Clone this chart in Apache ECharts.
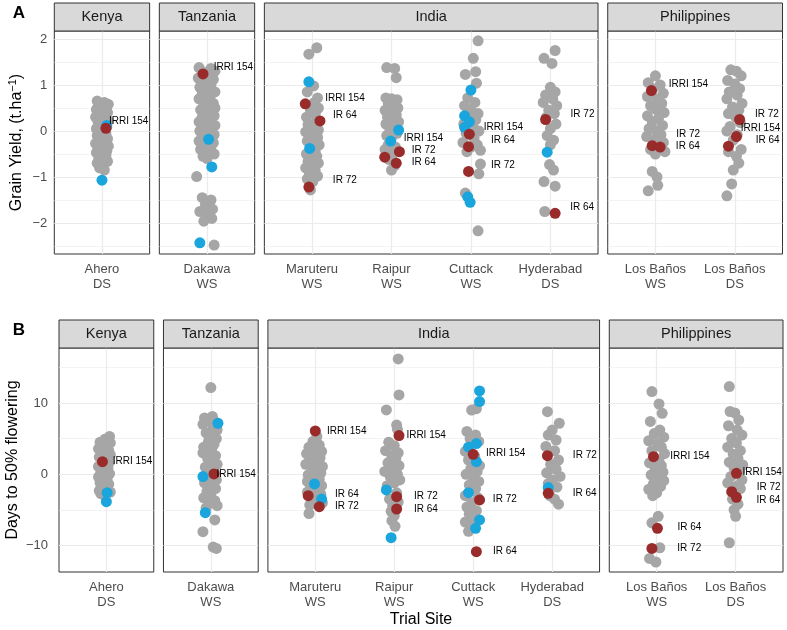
<!DOCTYPE html>
<html><head><meta charset="utf-8">
<script src="https://cdn.jsdelivr.net/npm/echarts@6/dist/echarts.min.js"></script>
<style>html,body{margin:0;padding:0;background:#fff}#c{width:787px;height:630px}</style>
</head><body><div id="c"></div>
<script>
// ---------------- DATA ----------------
const countries = ['Kenya', 'Tanzania', 'India', 'Philippines'];
const sitesKenya = ['Ahero\nDS'];
const sitesTanzania = ['Dakawa\nWS'];
const sitesIndia = ['Maruteru\nWS', 'Raipur\nWS', 'Cuttack\nWS', 'Hyderabad\nDS'];
const sitesPhilippines = ['Los Baños\nWS', 'Los Baños\nDS'];
const yieldTicks = [-2, -1, 0, 1, 2];
const yieldMinor = [-2.5, -1.5, -0.5, 0.5, 1.5];
const floweringTicks = [-10, 0, 10];
const floweringMinor = [-5, 5, 15];
const yieldRange = [-2.674, 2.174];
const floweringRange = [-13.7, 17.7];

// [siteIndex, jitter, value]
const yieldKenyaGray = [[0,-0.06,0.65],[0,0.03,0.62],[0,0.08,0.58],[0,-0.02,0.55],[0,0.05,0.5],[0,-0.07,0.47],[0,0.01,0.44],[0,0.07,0.4],[0,-0.04,0.36],[0,0.04,0.33],[0,-0.08,0.3],[0,0.0,0.27],[0,0.08,0.22],[0,-0.05,0.2],[0,0.03,0.16],[0,-0.02,0.12],[0,0.06,0.08],[0,-0.07,0.05],[0,0.01,0.02],[0,-0.03,-0.03],[0,0.05,-0.06],[0,-0.06,-0.1],[0,0.02,-0.13],[0,0.07,-0.17],[0,-0.03,-0.2],[0,0.04,-0.24],[0,-0.08,-0.27],[0,0.0,-0.3],[0,0.08,-0.33],[0,-0.05,-0.37],[0,0.03,-0.4],[0,0.06,-0.44],[0,-0.07,-0.47],[0,-0.01,-0.5],[0,0.05,-0.54],[0,-0.04,-0.58],[0,0.02,-0.62],[0,0.07,-0.66],[0,-0.06,-0.7],[0,0.0,-0.74],[0,-0.03,-0.8],[0,0.03,-0.85]];
const yieldKenyaBlue = [[0,0.06,0.12],[0,0.0,-1.07]];
const yieldKenyaRed = [[0,0.05,0.06,'IRRI 154']];

const yieldTanzaniaGray = [[0,-0.1,1.38],[0,0.05,1.36],[0,0.1,1.3],[0,-0.05,1.28],[0,0.0,1.2],[0,-0.11,1.15],[0,0.08,1.12],[0,-0.03,1.05],[0,0.05,1.0],[0,-0.09,0.95],[0,0.02,0.9],[0,0.1,0.85],[0,-0.06,0.8],[0,0.04,0.75],[0,-0.1,0.7],[0,0.0,0.66],[0,0.08,0.6],[0,-0.04,0.55],[0,0.1,0.5],[0,-0.08,0.46],[0,0.03,0.42],[0,-0.01,0.38],[0,0.09,0.33],[0,-0.06,0.3],[0,0.05,0.25],[0,-0.1,0.2],[0,0.01,0.16],[0,0.1,0.12],[0,-0.04,0.08],[0,0.06,0.04],[0,-0.09,0.0],[0,0.0,-0.04],[0,0.09,-0.08],[0,-0.06,-0.12],[0,0.04,-0.18],[0,-0.1,-0.22],[0,0.08,-0.26],[0,-0.02,-0.3],[0,0.05,-0.35],[0,-0.08,-0.4],[0,0.02,-0.45],[0,0.09,-0.5],[0,-0.05,-0.55],[0,0.0,-0.6],[0,-0.13,-0.99],[0,-0.06,-1.45],[0,0.05,-1.5],[0,-0.02,-1.6],[0,0.07,-1.7],[0,-0.09,-1.75],[0,0.0,-1.82],[0,0.06,-1.9],[0,-0.04,-1.96],[0,0.09,-2.48]];
const yieldTanzaniaBlue = [[0,0.02,-0.18],[0,0.06,-0.78],[0,-0.09,-2.43]];
const yieldTanzaniaRed = [[0,-0.05,1.24,'IRRI 154']];

const yieldIndiaGray = [
 [0,0.06,1.81],[0,-0.04,1.67],[0,0.02,0.98],[0,-0.06,0.85],[0,0.07,0.72],[0,0.03,0.62],[0,0.08,0.5],[0,-0.02,0.45],[0,0.04,0.38],[0,-0.07,0.3],[0,0.05,0.2],[0,-0.05,0.14],[0,0.0,0.08],[0,0.08,0.02],[0,-0.08,-0.02],[0,0.03,-0.06],[0,-0.03,-0.1],[0,0.07,-0.14],[0,0.0,-0.18],[0,-0.06,-0.22],[0,0.05,-0.26],[0,0.09,-0.3],[0,-0.02,-0.33],[0,0.04,-0.45],[0,-0.07,-0.5],[0,0.06,-0.55],[0,0.0,-0.6],[0,-0.05,-0.66],[0,0.08,-0.7],[0,0.02,-0.75],[0,-0.08,-0.8],[0,0.04,-0.86],[0,-0.03,-0.92],[0,0.07,-0.98],[0,-0.06,-1.04],[0,0.01,-1.1],[0,-0.02,-1.28],
 [1,-0.06,1.38],[1,0.04,1.36],[1,0.06,1.16],[1,-0.07,0.72],[1,0.0,0.7],[1,0.07,0.68],[1,-0.04,0.6],[1,0.03,0.56],[1,0.08,0.5],[1,-0.08,0.45],[1,0.0,0.4],[1,0.06,0.35],[1,-0.05,0.3],[1,0.02,0.26],[1,0.09,0.2],[1,-0.07,0.15],[1,0.03,0.1],[1,-0.02,0.05],[1,0.07,-0.05],[1,-0.06,-0.1],[1,0.0,-0.15],[1,-0.04,-0.3],[1,0.05,-0.35],[1,-0.08,-0.4],[1,0.02,-0.5],[1,-0.03,-0.62],[1,0.04,-0.75],[1,0.0,-0.85],
 [2,0.09,1.96],[2,0.03,1.58],[2,0.06,1.29],[2,-0.07,1.23],[2,0.07,1.04],[2,-0.04,0.72],[2,0.05,0.62],[2,-0.08,0.55],[2,0.0,0.45],[2,0.09,0.38],[2,-0.03,0.3],[2,0.06,0.24],[2,-0.09,0.15],[2,0.02,0.1],[2,0.1,0.0],[2,-0.06,-0.05],[2,0.04,-0.15],[2,-0.1,-0.25],[2,0.08,-0.3],[2,0.0,-0.35],[2,0.12,-0.42],[2,-0.05,-0.45],[2,0.12,-0.72],[2,0.1,-0.93],[2,-0.07,-1.35],[2,0.09,-2.17],
 [3,0.06,1.75],[3,-0.08,1.58],[3,0.02,1.47],[3,0.0,0.95],[3,0.06,0.85],[3,-0.06,0.78],[3,0.03,0.7],[3,-0.09,0.62],[3,0.08,0.55],[3,-0.02,0.45],[3,0.05,0.38],[3,-0.05,0.3],[3,0.07,0.15],[3,0.0,0.05],[3,-0.04,-0.1],[3,0.04,-0.2],[3,0.0,-0.3],[3,-0.01,-0.73],[3,0.04,-0.85],[3,-0.08,-1.1],[3,0.06,-1.2],[3,-0.07,-1.75]];
const yieldIndiaBlue = [[0,-0.04,1.07],[0,-0.03,-0.38],[1,0.09,0.02],[1,-0.01,-0.22],[2,0.0,0.89],[2,-0.08,0.33],[2,-0.02,0.2],[2,-0.08,0.08],[2,-0.04,-1.43],[2,-0.01,-1.55],[3,-0.04,-0.46]];
const yieldIndiaRed = [[0,-0.085,0.59,'IRRI 154'],[0,0.1,0.22,'IR 64'],[0,-0.04,-1.22,'IR 72'],[1,0.1,-0.45,'IR 72'],[1,-0.085,-0.57,'IRRI 154'],[1,0.06,-0.7,'IR 64'],[2,-0.02,-0.07,'IRRI 154'],[2,-0.03,-0.34,'IR 64'],[2,-0.03,-0.88,'IR 72'],[3,-0.06,0.25,'IR 72'],[3,0.06,-1.79,'IR 64']];

const yieldPhilippinesGray = [
 [0,0.0,1.2],[0,-0.09,1.05],[0,0.06,1.0],[0,-0.03,0.92],[0,0.1,0.82],[0,-0.1,0.75],[0,0.02,0.7],[0,0.08,0.6],[0,-0.06,0.55],[0,0.0,0.48],[0,0.11,0.4],[0,-0.1,0.33],[0,0.04,0.28],[0,-0.04,0.2],[0,0.09,0.12],[0,-0.08,0.05],[0,0.01,0.0],[0,0.07,-0.08],[0,-0.11,-0.12],[0,-0.02,-0.2],[0,0.1,-0.25],[0,-0.06,-0.4],[0,0.12,-0.45],[0,0.0,-0.5],[0,-0.04,-0.88],[0,0.02,-1.0],[0,0.03,-1.18],[0,-0.09,-1.3],
 [1,-0.05,1.33],[1,0.02,1.3],[1,0.08,1.2],[1,-0.09,1.1],[1,0.0,1.02],[1,0.06,0.92],[1,-0.07,0.85],[1,0.03,0.78],[1,-0.1,0.7],[1,0.09,0.6],[1,-0.03,0.52],[1,0.05,0.45],[1,-0.08,0.38],[1,0.01,0.3],[1,0.07,0.18],[1,-0.06,0.1],[1,-0.1,0.0],[1,0.03,-0.08],[1,-0.02,-0.2],[1,0.08,-0.4],[1,-0.08,-0.45],[1,0.02,-0.55],[1,0.05,-0.7],[1,-0.02,-0.85],[1,-0.04,-1.15],[1,-0.1,-1.41]];
const yieldPhilippinesBlue = [];
const yieldPhilippinesRed = [[0,-0.05,0.88,'IRRI 154'],[0,-0.04,-0.32,'IR 72'],[0,0.06,-0.35,'IR 64'],[1,0.06,0.25,'IR 72'],[1,0.02,-0.12,'IRRI 154'],[1,-0.08,-0.33,'IR 64']];

const floweringKenyaGray = [[0,0.04,5.3],[0,-0.02,4.9],[0,-0.08,4.5],[0,0.05,4.4],[0,0.0,4.0],[0,-0.1,3.6],[0,0.03,3.3],[0,-0.05,3.0],[0,0.05,2.7],[0,-0.09,2.4],[0,-0.01,2.1],[0,0.04,1.7],[0,-0.04,1.4],[0,-0.1,1.1],[0,0.02,0.9],[0,-0.02,0.6],[0,-0.07,0.3],[0,0.04,0.1],[0,-0.05,-0.2],[0,-0.1,-0.4],[0,0.01,-0.6],[0,-0.03,-0.9],[0,-0.08,-1.2],[0,0.03,-1.4],[0,-0.05,-1.7],[0,0.0,-2.0],[0,-0.09,-2.3],[0,0.05,-2.5],[0,-0.07,-2.7],[0,-0.03,-2.9]];
const floweringKenyaBlue = [[0,0.01,-2.58],[0,0.0,-3.84]];
const floweringKenyaRed = [[0,-0.05,1.77,'IRRI 154']];

const floweringTanzaniaGray = [[0,0.0,12.15],[0,0.02,8.1],[0,-0.08,7.9],[0,-0.04,7.6],[0,0.06,7.3],[0,-0.1,7.0],[0,0.03,6.6],[0,0.08,6.2],[0,-0.06,5.8],[0,0.0,5.5],[0,0.07,5.0],[0,-0.03,4.6],[0,0.04,4.2],[0,-0.09,3.8],[0,0.01,3.4],[0,-0.1,3.0],[0,0.06,2.6],[0,-0.04,2.2],[0,0.02,1.8],[0,0.08,1.4],[0,-0.07,1.0],[0,0.0,0.6],[0,0.05,0.2],[0,-0.03,-0.3],[0,0.07,-0.8],[0,-0.08,-1.2],[0,0.02,-1.6],[0,0.06,-2.0],[0,-0.05,-2.4],[0,0.0,-2.9],[0,-0.09,-3.3],[0,0.05,-3.7],[0,-0.02,-4.1],[0,0.08,-4.4],[0,-0.06,-4.7],[0,0.05,-6.4],[0,-0.1,-8.05],[0,0.03,-10.2],[0,0.07,-10.4]];
const floweringTanzaniaBlue = [[0,0.09,7.15],[0,-0.1,-0.33],[0,-0.07,-5.38]];
const floweringTanzaniaRed = [[0,0.04,0.04,'IRRI 154']];

const floweringIndiaGray = [
 [0,0.02,5.3],[0,-0.03,4.6],[0,0.05,4.1],[0,-0.08,3.8],[0,0.0,3.5],[0,0.08,3.2],[0,-0.11,2.9],[0,-0.02,2.6],[0,0.06,2.3],[0,-0.07,2.0],[0,0.03,1.7],[0,-0.12,1.4],[0,0.09,1.1],[0,-0.04,0.8],[0,0.01,0.5],[0,0.07,0.2],[0,-0.09,-0.1],[0,-0.02,-0.4],[0,0.05,-0.7],[0,-0.1,-1.0],[0,0.08,-1.6],[0,-0.06,-1.9],[0,0.03,-2.2],[0,-0.1,-2.5],[0,0.07,-2.8],[0,-0.03,-3.3],[0,0.09,-4.0],[0,-0.07,-4.3],[0,-0.08,-5.5],
 [1,0.05,16.17],[1,0.06,11.12],[1,-0.1,9.02],[1,0.03,6.9],[1,0.04,6.3],[1,-0.07,4.5],[1,0.0,4.0],[1,-0.11,3.3],[1,0.05,3.0],[1,-0.03,2.6],[1,0.02,2.2],[1,-0.08,1.6],[1,0.06,1.2],[1,-0.01,0.8],[1,-0.12,0.4],[1,0.04,0.0],[1,-0.05,-0.4],[1,0.07,-0.8],[1,0.0,-1.2],[1,-0.09,-1.6],[1,0.03,-2.6],[1,-0.06,-3.5],[1,0.05,-3.9],[1,-0.02,-4.4],[1,-0.04,-5.2],[1,0.0,-5.8],[1,-0.03,-6.5],[1,0.01,-7.3],
 [2,-0.02,9.0],[2,0.04,9.2],[2,-0.08,6.0],[2,0.03,5.5],[2,-0.04,5.0],[2,0.07,4.6],[2,-0.1,3.2],[2,0.02,2.5],[2,-0.06,2.0],[2,0.08,1.2],[2,-0.03,0.8],[2,0.05,0.4],[2,-0.09,0.0],[2,0.0,-0.5],[2,0.07,-1.0],[2,-0.05,-1.5],[2,0.03,-2.0],[2,-0.1,-3.0],[2,0.06,-3.3],[2,-0.02,-4.0],[2,-0.08,-4.6],[2,0.04,-5.1],[2,-0.05,-5.6],[2,0.0,-6.2],[2,-0.1,-6.7],[2,-0.03,-7.4],[2,-0.06,-8.0],
 [3,-0.06,8.78],[3,0.09,7.15],[3,0.0,6.2],[3,-0.05,5.5],[3,0.05,4.8],[3,-0.08,3.9],[3,0.03,3.3],[3,0.08,2.0],[3,-0.02,1.4],[3,0.05,0.7],[3,-0.07,0.2],[3,0.1,-0.3],[3,0.0,-0.8],[3,-0.05,-1.3],[3,0.06,-1.8],[3,-0.03,-3.0],[3,0.03,-3.5],[3,0.08,-4.2]];
const floweringIndiaBlue = [[0,-0.01,-1.36],[0,0.08,-3.47],[1,-0.1,-2.2],[1,-0.04,-8.89],[2,0.08,11.68],[2,0.08,10.19],[2,0.04,4.3],[2,-0.06,3.8],[2,0.04,1.77],[2,-0.06,-2.58],[2,0.08,-6.4],[2,0.03,-7.57],[3,-0.05,-1.87]];
const floweringIndiaRed = [[0,0.0,6.07,'IRRI 154'],[0,-0.09,-3.0,'IR 64'],[0,0.05,-4.54,'IR 72'],[1,0.06,5.42,'IRRI 154'],[1,0.03,-3.14,'IR 72'],[1,0.03,-4.87,'IR 64'],[2,0.0,2.8,'IRRI 154'],[2,0.08,-3.6,'IR 72'],[2,0.04,-10.85,'IR 64'],[3,-0.06,2.61,'IR 72'],[3,-0.05,-2.67,'IR 64']];

const floweringPhilippinesGray = [
 [0,-0.06,11.6],[0,0.03,9.85],[0,0.07,8.55],[0,-0.08,7.4],[0,0.04,6.2],[0,-0.03,5.7],[0,0.09,5.2],[0,-0.1,4.7],[0,0.01,4.3],[0,0.06,3.8],[0,-0.06,3.3],[0,0.1,2.9],[0,0.03,2.0],[0,-0.09,1.6],[0,0.06,1.2],[0,-0.02,0.8],[0,0.08,0.3],[0,-0.07,-0.1],[0,0.02,-0.5],[0,0.09,-0.9],[0,-0.04,-1.3],[0,0.05,-1.7],[0,-0.1,-2.1],[0,0.0,-2.6],[0,-0.05,-3.0],[0,0.02,-5.9],[0,-0.06,-6.8],[0,0.04,-10.3],[0,-0.09,-11.8],[0,-0.01,-12.3],
 [1,-0.08,12.3],[1,-0.07,8.8],[1,-0.01,8.6],[1,0.04,7.6],[1,-0.09,6.8],[1,0.02,6.2],[1,0.08,5.5],[1,-0.05,5.0],[1,0.01,4.4],[1,-0.1,3.8],[1,0.06,3.3],[1,-0.03,2.8],[1,0.03,2.2],[1,-0.08,1.7],[1,0.09,1.3],[1,-0.02,0.9],[1,0.05,0.4],[1,-0.06,-0.3],[1,0.08,-0.8],[1,-0.1,-1.2],[1,0.02,-1.6],[1,0.06,-2.0],[1,-0.04,-3.5],[1,0.03,-4.2],[1,-0.02,-5.0],[1,0.0,-5.9],[1,-0.08,-9.6]];
const floweringPhilippinesBlue = [];
const floweringPhilippinesRed = [[0,-0.04,2.47,'IRRI 154'],[0,0.01,-7.58,'IR 64'],[0,-0.06,-10.4,'IR 72'],[1,0.01,0.14,'IRRI 154'],[1,-0.05,-2.44,'IR 72'],[1,0.01,-3.23,'IR 64']];

// ---------------- LABEL PLACEMENT (px offsets of label text from its point) ----------------
const yieldKenyaLabelPos = [[3,-6.6]];
const yieldTanzaniaLabelPos = [[10.6,-6.7]];
const yieldIndiaLabelPos = [[20,-5.7],[13,-5.7],[24,-6.6],[12.3,-1],[19,-19],[15.6,-0.6],[14.3,-6.7],[22.4,-6.7],[22.4,-6.7],[25,-5.3],[15,-6]];
const yieldPhilippinesLabelPos = [[17.3,-6.7],[24,-11.7],[15.7,-1.3],[15.3,-5.3],[4.4,-8.4],[27.3,-6]];
const floweringKenyaLabelPos = [[10.4,0]];
const floweringTanzaniaLabelPos = [[2.4,0]];
const floweringIndiaLabelPos = [[11.7,0],[26.7,-1.4],[15.7,0],[7.4,-0.7],[17.3,0],[17.3,0],[12.7,-1],[13.3,-0.7],[16.6,0],[25.4,-0.7],[24.4,0]];
const floweringPhilippinesLabelPos = [[16.7,-0.7],[20,-1],[25.4,-0.6],[6,-0.6],[25,-4.4],[20,2.7]];

// ---------------- STYLE / LAYOUT ----------------
const FONT = "'Liberation Sans', Arial, Helvetica, sans-serif";
const GRAY = '#A6A6A6', BLUE = '#1AA5DC', RED = '#992B2B';
const GAP = 9.7, STRIP_H = 28, PT = 11;
const minusFmt = v => v < 0 ? '\u2212' + Math.abs(v) : String(v);

const rows = [
  { left: 54.3, right: 782.5, top: 31, height: 223, nameGap: 29, labelMargin: 7, letter: 'A', letterY: 13,
    title: 'Grain Yield, (t.ha{sup|\u22121})', range: yieldRange, ticks: yieldTicks, minor: yieldMinor,
    panels: [
      { country: countries[0], sites: sitesKenya, gray: yieldKenyaGray, blue: yieldKenyaBlue, red: yieldKenyaRed, pos: yieldKenyaLabelPos },
      { country: countries[1], sites: sitesTanzania, gray: yieldTanzaniaGray, blue: yieldTanzaniaBlue, red: yieldTanzaniaRed, pos: yieldTanzaniaLabelPos },
      { country: countries[2], sites: sitesIndia, gray: yieldIndiaGray, blue: yieldIndiaBlue, red: yieldIndiaRed, pos: yieldIndiaLabelPos },
      { country: countries[3], sites: sitesPhilippines, gray: yieldPhilippinesGray, blue: yieldPhilippinesBlue, red: yieldPhilippinesRed, pos: yieldPhilippinesLabelPos }
    ] },
  { left: 59, right: 783, top: 348, height: 224, nameGap: 38, labelMargin: 11, letter: 'B', letterY: 330,
    title: 'Days to 50% flowering', range: floweringRange, ticks: floweringTicks, minor: floweringMinor,
    panels: [
      { country: countries[0], sites: sitesKenya, gray: floweringKenyaGray, blue: floweringKenyaBlue, red: floweringKenyaRed, pos: floweringKenyaLabelPos },
      { country: countries[1], sites: sitesTanzania, gray: floweringTanzaniaGray, blue: floweringTanzaniaBlue, red: floweringTanzaniaRed, pos: floweringTanzaniaLabelPos },
      { country: countries[2], sites: sitesIndia, gray: floweringIndiaGray, blue: floweringIndiaBlue, red: floweringIndiaRed, pos: floweringIndiaLabelPos },
      { country: countries[3], sites: sitesPhilippines, gray: floweringPhilippinesGray, blue: floweringPhilippinesBlue, red: floweringPhilippinesRed, pos: floweringPhilippinesLabelPos }
    ] }
];

const grid = [], xAxis = [], yAxis = [], series = [], elements = [];

rows.forEach((row) => {
  const u = (row.right - row.left - 3 * GAP) / 8.8;
  let x = row.left;
  row.panels.forEach((p, pi) => {
    const n = p.sites.length;
    const w = (n + 0.2) * u;
    const gi = grid.length;
    const idx = p.sites.map((_, i) => i);
    grid.push({ left: x, top: row.top, width: w, height: row.height, show: true,
      borderColor: '#333333', borderWidth: 1, backgroundColor: '#ffffff' });
    xAxis.push({ type: 'value', gridIndex: gi, min: -0.6, max: n - 0.4,
      axisLine: { show: false }, splitLine: { show: false },
      axisTick: { show: true, customValues: idx, length: 4, lineStyle: { color: '#333333', width: 1 } },
      axisLabel: { show: true, customValues: idx, formatter: v => p.sites[Math.round(v)],
        color: '#4D4D4D', fontSize: 13, lineHeight: 15, margin: 8, fontFamily: FONT } });
    yAxis.push({ type: 'value', gridIndex: gi, min: row.range[0], max: row.range[1],
      axisLine: { show: false }, splitLine: { show: false },
      axisTick: { show: pi === 0, customValues: row.ticks, length: 4, lineStyle: { color: '#333333', width: 1 } },
      axisLabel: { show: pi === 0, customValues: row.ticks, formatter: minusFmt, color: '#4D4D4D',
        fontSize: 13, margin: row.labelMargin, fontFamily: FONT },
      name: pi === 0 ? row.title : '', nameLocation: 'middle', nameRotate: 90, nameGap: row.nameGap,
      nameTextStyle: { fontSize: 16, color: '#000', fontFamily: FONT,
        rich: { sup: { fontSize: 11, color: '#000', fontFamily: FONT, verticalAlign: 'top', lineHeight: 18 } } } });

    const lines = [];
    row.ticks.forEach(v => lines.push({ yAxis: v, lineStyle: { color: '#EBEBEB', width: 1.2, type: 'solid' } }));
    row.minor.forEach(v => lines.push({ yAxis: v, lineStyle: { color: '#EBEBEB', width: 0.6, type: 'solid' } }));
    idx.forEach(i => lines.push({ xAxis: i, lineStyle: { color: '#EBEBEB', width: 1.2, type: 'solid' } }));
    series.push({ type: 'scatter', xAxisIndex: gi, yAxisIndex: gi, data: [], silent: true, z: 1,
      markLine: { silent: true, z: 1, symbol: 'none', label: { show: false }, animation: false, data: lines } });

    const toPt = d => [d[0] + d[1], d[2]];
    series.push({ type: 'scatter', xAxisIndex: gi, yAxisIndex: gi, z: 2, silent: true, symbolSize: PT,
      itemStyle: { color: GRAY, opacity: 1 }, data: p.gray.map(toPt) });
    series.push({ type: 'scatter', xAxisIndex: gi, yAxisIndex: gi, z: 3, silent: true, symbolSize: PT,
      itemStyle: { color: BLUE, opacity: 1 }, data: p.blue.map(toPt) });
    series.push({ type: 'scatter', xAxisIndex: gi, yAxisIndex: gi, z: 4, silent: true, symbolSize: PT,
      itemStyle: { color: RED, opacity: 1 },
      data: p.red.map((d, k) => ({ value: toPt(d),
        label: { show: true, formatter: d[3], position: 'inside', align: 'left', verticalAlign: 'middle',
          offset: p.pos[k], color: '#000', fontSize: 10, fontFamily: FONT } })) });

    elements.push({ type: 'rect', silent: true, z: 10,
      shape: { x: x, y: row.top - STRIP_H, width: w, height: STRIP_H },
      style: { fill: '#D9D9D9', stroke: '#333333', lineWidth: 1 } });
    elements.push({ type: 'text', silent: true, z: 11,
      style: { text: p.country, x: x + w / 2, y: row.top - STRIP_H / 2, align: 'center', verticalAlign: 'middle',
        fontSize: 14.5, fill: '#1A1A1A', fontFamily: FONT } });
    x += w + GAP;
  });
  elements.push({ type: 'text', silent: true, z: 11,
    style: { text: row.letter, x: 19, y: row.letterY, align: 'center', verticalAlign: 'middle',
      fontSize: 17, fontWeight: 'bold', fill: '#000', fontFamily: FONT } });
});
elements.push({ type: 'text', silent: true, z: 11,
  style: { text: 'Trial Site', x: 421, y: 620, align: 'center', verticalAlign: 'middle',
    fontSize: 16, fill: '#000', fontFamily: FONT } });

const chart = echarts.init(document.getElementById('c'), null, { renderer: 'canvas' });
chart.setOption({ animation: false, backgroundColor: '#ffffff', grid, xAxis, yAxis, series, graphic: { elements } });
</script></body></html>
